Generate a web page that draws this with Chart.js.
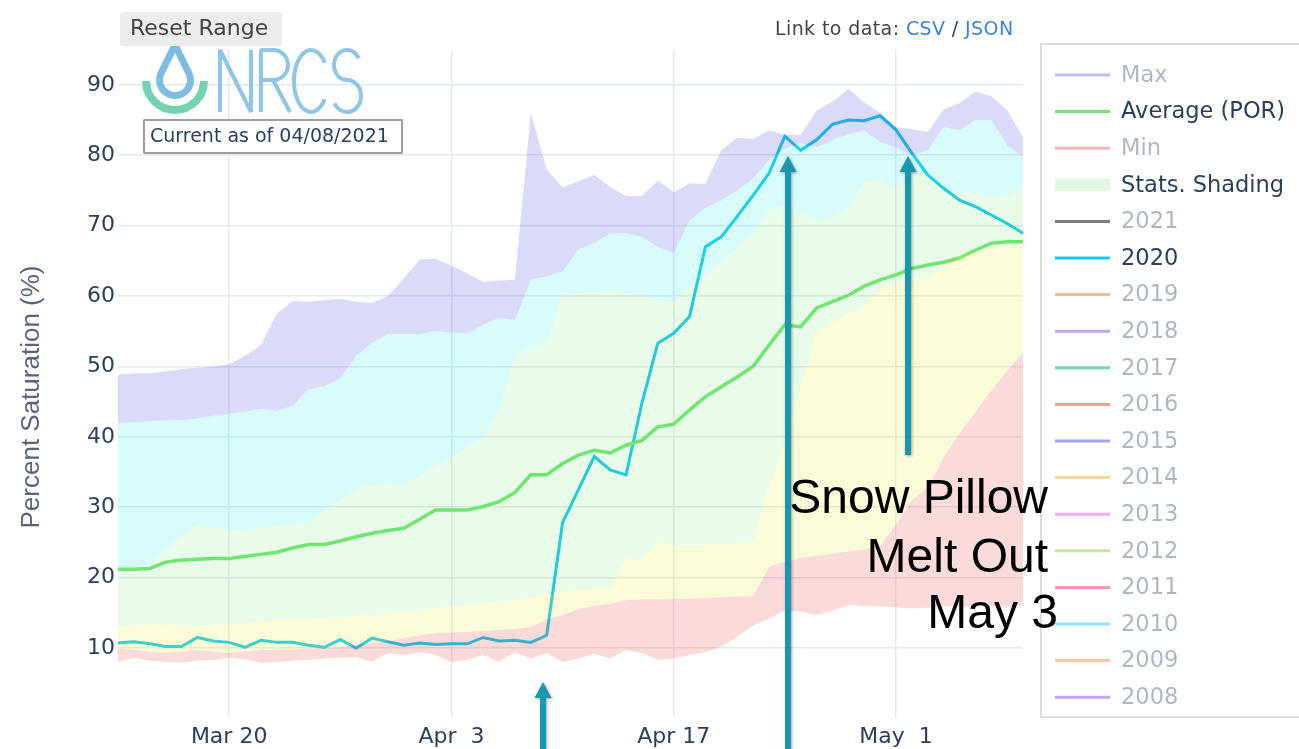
<!DOCTYPE html>
<html>
<head>
<meta charset="utf-8">
<title>Percent Saturation</title>
<script src="https://cdn.jsdelivr.net/npm/chart.js@4.4.1/dist/chart.umd.min.js"></script>
<style>
  html, body { margin: 0; padding: 0; background: #fff; }
  #wrap { position: relative; width: 1299px; height: 749px; }
</style>
</head>
<body>
<div id="wrap"><canvas id="satChart"></canvas></div>
<script>
// daily categories, Mar 13 - May 9
const days = [
  'Mar 13', 'Mar 14', 'Mar 15', 'Mar 16', 'Mar 17', 'Mar 18', 'Mar 19', 'Mar 20', 'Mar 21', 'Mar 22',
  'Mar 23', 'Mar 24', 'Mar 25', 'Mar 26', 'Mar 27', 'Mar 28', 'Mar 29', 'Mar 30', 'Mar 31',
  'Apr 1', 'Apr 2', 'Apr 3', 'Apr 4', 'Apr 5', 'Apr 6', 'Apr 7', 'Apr 8', 'Apr 9', 'Apr 10',
  'Apr 11', 'Apr 12', 'Apr 13', 'Apr 14', 'Apr 15', 'Apr 16', 'Apr 17', 'Apr 18', 'Apr 19', 'Apr 20',
  'Apr 21', 'Apr 22', 'Apr 23', 'Apr 24', 'Apr 25', 'Apr 26', 'Apr 27', 'Apr 28', 'Apr 29', 'Apr 30',
  'May 1', 'May 2', 'May 3', 'May 4', 'May 5', 'May 6', 'May 7', 'May 8', 'May 9'
];
const tickDays = ['Mar 20', 'Apr 3', 'Apr 17', 'May 1'];
const tickLabels = ['Mar 20', 'Apr  3', 'Apr 17', 'May  1'];
const yTicks = [10, 20, 30, 40, 50, 60, 70, 80, 90];

// statistics bands (percent saturation)
const maxPct = [48.8, 49.0, 49.0, 49.3, 49.6, 49.8, 50.0, 50.3, 51.5, 53.0, 57.5, 59.3, 59.2, 59.4, 59.6, 59.2, 59.0, 60.0, 62.5, 65.2,
  65.3, 64.3, 63.2, 62.0, 62.2, 62.3, 86.0, 78.0, 75.4, 76.3, 77.2, 75.5, 74.2, 74.2, 76.4, 74.7, 76.0, 75.9, 80.7, 82.5,
  82.3, 83.5, 82.9, 82.9, 86.3, 87.6, 89.4, 87.5, 86.0, 84.0, 83.7, 83.3, 86.5, 87.4, 89.0, 88.4, 86.4, 82.6];
const p90 = [42.0, 42.1, 42.2, 42.3, 42.4, 42.6, 43.0, 43.3, 43.6, 44.0, 43.7, 44.4, 46.8, 47.2, 48.3, 51.5, 53.4, 54.6, 54.6, 54.6,
  55.0, 54.8, 54.7, 55.9, 56.9, 56.6, 62.3, 62.8, 63.5, 66.6, 67.5, 68.9, 68.9, 68.4, 67.0, 66.1, 70.8, 72.5, 73.6, 75.0,
  76.7, 79.3, 81.0, 81.7, 81.1, 82.2, 83.0, 83.5, 81.9, 81.1, 80.0, 80.7, 84.0, 83.5, 85.0, 85.0, 81.4, 79.8];
const p70 = [21.5, 21.5, 21.8, 24.0, 26.0, 27.5, 27.2, 26.8, 26.5, 27.0, 27.5, 27.6, 27.8, 29.5, 31.0, 32.5, 33.2, 33.4, 33.2, 34.4,
  36.0, 37.0, 38.5, 40.0, 44.0, 51.5, 52.8, 53.3, 60.4, 60.4, 60.6, 60.9, 60.5, 60.1, 59.4, 59.0, 61.3, 63.0, 65.1, 66.8,
  68.9, 72.2, 72.9, 71.7, 70.6, 71.5, 72.5, 76.2, 76.5, 75.5, 76.9, 77.2, 75.3, 74.6, 74.8, 74.1, 74.3, 75.5];
const p30 = [13.0, 13.2, 13.3, 13.3, 13.2, 13.0, 13.3, 13.3, 13.5, 13.7, 14.0, 14.0, 14.1, 14.2, 14.3, 14.6, 14.7, 14.9, 15.1, 15.4,
  15.8, 16.0, 16.1, 16.3, 16.5, 16.8, 17.2, 17.6, 18.1, 18.3, 18.4, 18.5, 22.7, 22.5, 25.1, 24.6, 24.6, 24.6, 24.8, 25.0,
  25.1, 33.0, 39.0, 47.1, 54.7, 56.2, 57.5, 58.5, 61.0, 61.8, 62.3, 62.7, 64.2, 65.6, 66.3, 66.8, 67.0, 67.5];
const p10 = [9.9, 9.7, 9.5, 9.3, 9.5, 9.7, 9.5, 9.3, 9.5, 9.7, 9.8, 9.8, 9.9, 10.0, 10.1, 10.4, 10.7, 11.0, 11.4, 11.8,
  12.1, 12.2, 12.3, 12.4, 12.6, 12.7, 13.0, 14.0, 14.7, 15.5, 16.0, 16.3, 16.8, 16.9, 16.9, 17.0, 17.0, 17.1, 17.2, 17.3,
  17.4, 21.5, 22.3, 22.8, 23.1, 23.4, 23.7, 24.0, 24.5, 27.5, 31.0, 32.8, 37.0, 40.5, 43.5, 46.6, 49.3, 52.0];
const minPct = [8.0, 8.6, 8.2, 8.0, 7.9, 8.2, 8.3, 8.6, 8.4, 7.9, 8.0, 8.2, 8.3, 8.5, 8.6, 8.7, 8.0, 9.3, 9.0, 9.4,
  9.0, 8.0, 8.3, 9.0, 8.0, 9.4, 8.5, 9.3, 8.0, 8.5, 9.2, 8.5, 9.7, 9.3, 8.3, 8.5, 9.0, 9.4, 10.2, 11.6,
  13.2, 14.2, 15.4, 15.2, 14.7, 15.3, 16.1, 16.0, 15.9, 15.8, 15.6, 15.7, 15.9, 15.9, 15.9, 15.9, 15.9, 16.0];
const averagePor = [21.2, 21.2, 21.3, 22.2, 22.5, 22.6, 22.7, 22.7, 23.0, 23.3, 23.6, 24.2, 24.7, 24.7, 25.2, 25.8, 26.3, 26.7, 27.0, 28.3,
  29.6, 29.6, 29.6, 30.1, 30.8, 32.1, 34.6, 34.6, 36.2, 37.4, 38.1, 37.7, 38.8, 39.5, 41.4, 41.8, 43.8, 45.7, 47.1, 48.5,
  50.0, 53.0, 55.9, 55.6, 58.3, 59.2, 60.1, 61.4, 62.3, 63.0, 63.9, 64.4, 64.8, 65.4, 66.5, 67.5, 67.7, 67.7];
const wy2020 = [10.7, 10.9, 10.6, 10.2, 10.2, 11.5, 11.0, 10.8, 10.1, 11.1, 10.8, 10.8, 10.4, 10.1, 11.2, 10.0, 11.4, 10.9, 10.4, 10.7,
  10.5, 10.6, 10.6, 11.5, 11.0, 11.1, 10.8, 11.8, 27.8, 32.5, 37.2, 35.3, 34.6, 44.8, 53.3, 54.7, 57.1, 67.0, 68.4, 71.3,
  74.3, 77.4, 82.7, 80.7, 82.2, 84.4, 85.0, 84.9, 85.6, 83.6, 80.3, 77.2, 75.3, 73.6, 72.7, 71.5, 70.3, 68.9];

// legend entries (most years are legend-only)
const legendNames = ['Max', 'Average (POR)', 'Min', 'Stats. Shading', '2021', '2020', '2019', '2018', '2017',
  '2016', '2015', '2014', '2013', '2012', '2011', '2010', '2009', '2008'];
const legendColors = ['#bcbcf5', '#74e674', '#f7b5b5', '#e2f8e2', '#7f7f7f', '#1ec4ee', '#f9bb9c', '#c3a5f3', '#6adcb9',
  '#f5a08f', '#a2a5f5', '#f9d49c', '#f4aaf0', '#c2e49e', '#f39cb2', '#92e6f5', '#f9c69e', '#c3a4f3'];
const legendShown = ['Average (POR)', 'Stats. Shading', '2020'];

Chart.defaults.font.family = '"DejaVu Sans", Verdana, sans-serif';

function band(label, values, color) {
  return { label: label, data: values, borderWidth: 0, pointRadius: 0, backgroundColor: color, fill: '+1' };
}

const decorations = {
  id: 'decorations',
  afterDraw(chart) {
    const ctx = chart.ctx;
    ctx.save();

    // y axis title
    ctx.save();
    ctx.translate(32, 397);
    ctx.rotate(-Math.PI / 2);
    ctx.fillStyle = '#5b6479';
    ctx.font = '26px "Liberation Sans", Arial, sans-serif';
    ctx.textAlign = 'center';
    ctx.textBaseline = 'middle';
    ctx.fillText('Percent Saturation (%)', 0, 0);
    ctx.restore();

    // legend box
    ctx.fillStyle = '#fff';
    ctx.fillRect(1041, 44, 270, 673);
    ctx.strokeStyle = '#dcdcdc';
    ctx.lineWidth = 2;
    ctx.strokeRect(1041, 44, 270, 673);
    ctx.font = '22.5px "DejaVu Sans", Verdana, sans-serif';
    ctx.textBaseline = 'middle';
    ctx.textAlign = 'left';
    legendNames.forEach((name, k) => {
      const y = 75 + k * 36.6;
      if (name === 'Stats. Shading') {
        ctx.fillStyle = legendColors[k];
        ctx.fillRect(1055, y - 6, 55, 12);
      } else {
        ctx.strokeStyle = legendColors[k];
        ctx.lineWidth = 3;
        ctx.beginPath();
        ctx.moveTo(1055, y);
        ctx.lineTo(1110, y);
        ctx.stroke();
      }
      ctx.fillStyle = legendShown.includes(name) ? '#2a3f5f' : 'rgba(42,63,95,0.38)';
      ctx.fillText(name, 1121, y + 1);
    });

    // NRCS logo
    ctx.lineWidth = 7;
    ctx.strokeStyle = '#7dbde3';
    ctx.beginPath();
    ctx.moveTo(175, 45);
    ctx.arc(175, 80, 15.5, -26 * Math.PI / 180, 206 * Math.PI / 180);
    ctx.closePath();
    ctx.stroke();
    ctx.strokeStyle = '#74d3b4';
    ctx.lineWidth = 8;
    ctx.beginPath();
    ctx.arc(175, 81, 29, 0, Math.PI);
    ctx.stroke();
    ctx.strokeStyle = '#8fc5e6';
    ctx.lineWidth = 4;
    ctx.lineJoin = 'bevel';
    ctx.beginPath();
    ctx.moveTo(220, 112); ctx.lineTo(220, 50); ctx.lineTo(251, 112); ctx.lineTo(251, 50);
    ctx.moveTo(261, 112); ctx.lineTo(261, 50); ctx.lineTo(273, 50);
    ctx.arc(273, 65, 15, -Math.PI / 2, Math.PI / 2);
    ctx.lineTo(261, 80);
    ctx.moveTo(273, 80); ctx.lineTo(290, 112);
    ctx.stroke();
    ctx.beginPath();
    ctx.ellipse(311, 81, 17, 31, 0, -0.2 * Math.PI, 0.2 * Math.PI, true);
    ctx.stroke();
    ctx.beginPath();
    ctx.ellipse(347, 65, 13, 15, 0, -0.15 * Math.PI, 0.5 * Math.PI, true);
    ctx.ellipse(347, 96, 14, 16, 0, -0.5 * Math.PI, 0.85 * Math.PI, false);
    ctx.stroke();

    // Reset Range button
    ctx.fillStyle = '#ececec';
    ctx.beginPath();
    ctx.roundRect(120, 12, 162, 34, 3);
    ctx.fill();
    ctx.fillStyle = '#444';
    ctx.font = '22px "DejaVu Sans", Verdana, sans-serif';
    ctx.fillText('Reset Range', 130, 29);

    // current-as-of box
    ctx.fillStyle = '#fff';
    ctx.fillRect(144, 120, 258, 33);
    ctx.strokeStyle = '#a0a0a0';
    ctx.lineWidth = 2;
    ctx.strokeRect(144, 120, 258, 33);
    ctx.fillStyle = '#2a3f5f';
    ctx.font = '19px "DejaVu Sans", Verdana, sans-serif';
    ctx.fillText('Current as of 04/08/2021', 150, 137);

    // data links
    ctx.font = '19px "DejaVu Sans", Verdana, sans-serif';
    ctx.letterSpacing = '0.4px';
    let lx = 775;
    [['Link to data: ', '#444'], ['CSV', '#3f7fdc'], [' / ', '#2a3f5f'], ['JSON', '#3f7fdc']].forEach(([t, c]) => {
      ctx.fillStyle = c;
      ctx.fillText(t, lx, 30);
      lx += ctx.measureText(t).width;
    });
    ctx.letterSpacing = '0px';

    // arrows
    const arrow = (x, tip, end) => {
      ctx.save();
      ctx.shadowColor = 'rgba(0,0,0,0.35)';
      ctx.shadowBlur = 3;
      ctx.shadowOffsetX = 1;
      ctx.shadowOffsetY = 1;
      ctx.fillStyle = '#1997b0';
      ctx.beginPath();
      ctx.moveTo(x, tip);
      ctx.lineTo(x + 8.5, tip + 16);
      ctx.lineTo(x + 3, tip + 16);
      ctx.lineTo(x + 3, end);
      ctx.lineTo(x - 3, end);
      ctx.lineTo(x - 3, tip + 16);
      ctx.lineTo(x - 8.5, tip + 16);
      ctx.closePath();
      ctx.fill();
      ctx.restore();
    };
    arrow(543, 682, 760);
    arrow(788, 156, 760);
    arrow(908, 156, 455);

    // annotation text
    ctx.fillStyle = '#000';
    ctx.font = '48px "Liberation Sans", Arial, sans-serif';
    ctx.textAlign = 'right';
    ctx.textBaseline = 'alphabetic';
    ctx.fillText('Snow Pillow', 1048, 513);
    ctx.fillText('Melt Out', 1048, 572);
    ctx.fillText('May 3', 1058, 628);

    ctx.restore();
  }
};

new Chart(document.getElementById('satChart'), {
  type: 'line',
  data: {
    labels: days,
    datasets: [
      band('Max', maxPct, 'rgba(70,70,225,0.2)'),
      band('90%', p90, 'rgba(60,235,235,0.2)'),
      band('70%', p70, 'rgba(110,225,110,0.15)'),
      band('30%', p30, 'rgba(235,235,60,0.2)'),
      band('10%', p10, 'rgba(235,70,70,0.2)'),
      { label: 'Min', data: minPct, borderWidth: 0, pointRadius: 0, fill: false },
      { label: 'Average (POR)', data: averagePor, borderColor: '#72e672', borderWidth: 3.5, pointRadius: 0, fill: false },
      { label: '2020', data: wy2020, borderColor: '#14c8ec', borderWidth: 3, pointRadius: 0, fill: false }
    ]
  },
  options: {
    responsive: true,
    maintainAspectRatio: false,
    animation: false,
    events: [],
    layout: { padding: { top: 49.6, right: 276, bottom: 0, left: 0 } },
    elements: { line: { tension: 0 } },
    plugins: {
      legend: { display: false },
      tooltip: { enabled: false },
      filler: { drawTime: 'beforeDatasetDraw' }
    },
    scales: {
      x: {
        type: 'category',
        afterFit: axis => { axis.height = 30.6; },
        border: { display: false },
        grid: {
          drawTicks: false,
          lineWidth: 1.5,
          color: c => tickDays.includes(days[c.index]) ? '#e3e9f4' : 'rgba(0,0,0,0)'
        },
        ticks: {
          autoSkip: false,
          maxRotation: 0,
          minRotation: 0,
          padding: 6,
          color: '#2a3f5f',
          font: { size: 22 },
          callback: function (value) {
            const k = tickDays.indexOf(this.getLabelForValue(value));
            return k >= 0 ? tickLabels[k] : '';
          }
        }
      },
      y: {
        min: 0,
        max: 95,
        afterFit: axis => { axis.width = 118; },
        afterBuildTicks: axis => { axis.ticks = yTicks.map(v => ({ value: v })); },
        border: { display: false },
        grid: { drawTicks: false, lineWidth: 1.5, color: '#e3e9f4' },
        ticks: { padding: 3, color: '#2a3f5f', font: { size: 22 } },
        title: { display: false }
      }
    }
  },
  plugins: [decorations]
});
</script>
</body>
</html>
